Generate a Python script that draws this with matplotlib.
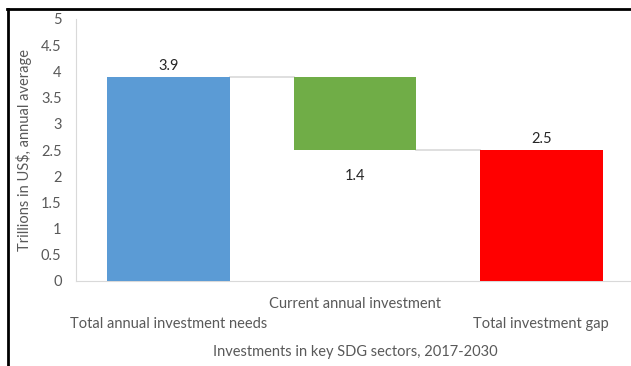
import matplotlib.pyplot as plt
import matplotlib.transforms as mtransforms
from matplotlib.lines import Line2D

plt.rcParams['font.family'] = ['Lato', 'DejaVu Sans']

categories = ["Total annual investment needs", "Current annual investment", "Total investment gap"]
bottoms = [0, 2.5, 0]
heights = [3.9, 1.4, 2.5]
labels = ["3.9", "1.4", "2.5"]
colors = ["#5B9BD5", "#70AD47", "#FF0000"]
# stagger the category labels like Excel does
label_rows = [1, 0, 1]

grey = "#595959"
fs = 10.5
fig = plt.figure(figsize=(6.31, 3.66), dpi=100)
ax = fig.add_axes([75.5 / 631, 85 / 366, 559 / 631, 262 / 366])

x = list(range(len(categories)))
width = 0.66
ax.bar(x, heights, width=width, bottom=bottoms, color=colors, zorder=3)

# connector lines between bars
levels = [bottoms[i] + heights[i] for i in range(len(x))]
for i in range(len(x) - 1):
    y = levels[i] if i == 0 else bottoms[i]
    ax.plot([x[i] + width / 2, x[i + 1] - width / 2], [y, y], color="#d9d9d9", lw=1.2, zorder=2)

# data labels
for i in x:
    if i == 1:
        ax.text(i, bottoms[i] - 0.5, labels[i], ha="center", va="center", fontsize=fs, color="#262626")
    else:
        ax.text(i, levels[i] + 0.21, labels[i], ha="center", va="center", fontsize=fs, color="#262626")

ax.set_xlim(-0.5, 2.5)
ax.set_ylim(0, 5)
ax.set_yticks([0, 0.5, 1, 1.5, 2, 2.5, 3, 3.5, 4, 4.5, 5])
ax.set_yticklabels(["0", "0.5", "1", "1.5", "2", "2.5", "3", "3.5", "4", "4.5", "5"])
ax.tick_params(axis="y", length=0, pad=10, labelsize=fs, labelcolor=grey)
ax.set_xticks([])

trans = mtransforms.blended_transform_factory(ax.transData, ax.transAxes)
for i, (cat, row) in enumerate(zip(categories, label_rows)):
    ax.text(x[i], -0.06 - row * 0.077, cat, transform=trans, ha="center", va="top",
            fontsize=fs, color=grey)

for s in ["top", "right"]:
    ax.spines[s].set_visible(False)
ax.spines["left"].set_color("#d9d9d9")
ax.spines["bottom"].set_color("#d9d9d9")

ax.set_ylabel("Trillions in US$, annual average", fontsize=fs, color=grey)
ax.yaxis.set_label_coords(-0.078, 0.5)
fig.text(355 / 631, 1 - 352 / 366, "Investments in key SDG sectors, 2017-2030",
         ha="center", va="center", fontsize=fs, color=grey)

# black frame on the left and top
fig.add_artist(Line2D([8 / 631, 8 / 631], [0, 1 - 8.5 / 366], color="black", lw=2, transform=fig.transFigure))
fig.add_artist(Line2D([7 / 631, 1], [1 - 8.5 / 366, 1 - 8.5 / 366], color="black", lw=2, transform=fig.transFigure))

fig.savefig("out.png", dpi=100)
